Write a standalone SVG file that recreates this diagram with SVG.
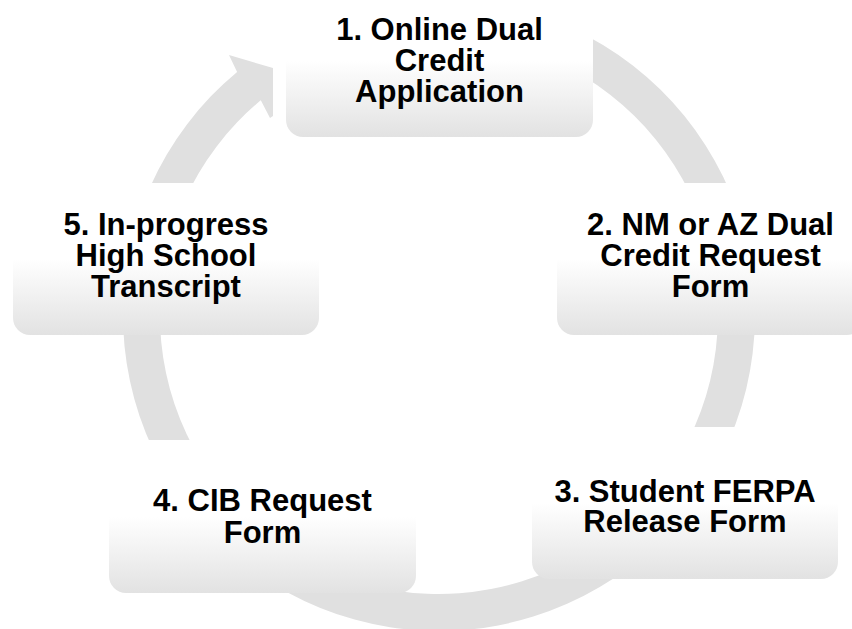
<svg xmlns="http://www.w3.org/2000/svg" width="852" height="629" viewBox="0 0 852 629">
  <defs>
    <linearGradient id="nodeFill" x1="0" y1="0" x2="0" y2="1">
      <stop offset="0" stop-color="#ffffff"/>
      <stop offset="0.5" stop-color="#ffffff"/>
      <stop offset="1" stop-color="#e2e2e2"/>
    </linearGradient>
    <style>
      .box { fill: url(#nodeFill); }
      .label { font-family: "Liberation Sans", Arial, sans-serif; font-weight: bold; font-size: 31px; fill: #000000; text-anchor: middle; }
      .ring { fill: #e0e0e0; }
    </style>
  </defs>
  <rect x="0" y="0" width="852" height="629" fill="#ffffff"/>

  <!-- circular flow arrow behind the steps -->
  <g id="connectors">
    <path class="ring" d="M 466.5 0.2 A 316 316 0 1 1 237.1 71.9 L 229 55 L 273 68 L 273 116 L 270 118 L 260.8 100.3 A 279 279 0 1 0 463.3 37.1 Z"/>
  </g>

  <g id="node1">
    <rect class="box" x="286" y="-16" width="307" height="153" rx="17" ry="17"/>
    <text class="label" x="439.5" y="40">1. Online Dual</text>
    <text class="label" x="439.5" y="71">Credit</text>
    <text class="label" x="439.5" y="102">Application</text>
  </g>

  <g id="node2">
    <rect class="box" x="557" y="183" width="307" height="152" rx="17" ry="17"/>
    <text class="label" x="710.5" y="235">2. NM or AZ Dual</text>
    <text class="label" x="710.5" y="266">Credit Request</text>
    <text class="label" x="710.5" y="297">Form</text>
  </g>

  <g id="node3">
    <rect class="box" x="532" y="427" width="306" height="152" rx="17" ry="17"/>
    <text class="label" x="685" y="502">3. Student FERPA</text>
    <text class="label" x="685" y="532">Release Form</text>
  </g>

  <g id="node4">
    <rect class="box" x="109" y="440" width="307" height="153" rx="17" ry="17"/>
    <text class="label" x="262.5" y="511">4. CIB Request</text>
    <text class="label" x="262.5" y="543">Form</text>
  </g>

  <g id="node5">
    <rect class="box" x="13" y="183" width="306" height="152" rx="17" ry="17"/>
    <text class="label" x="166" y="235">5. In-progress</text>
    <text class="label" x="166" y="266">High School</text>
    <text class="label" x="166" y="297">Transcript</text>
  </g>
</svg>
